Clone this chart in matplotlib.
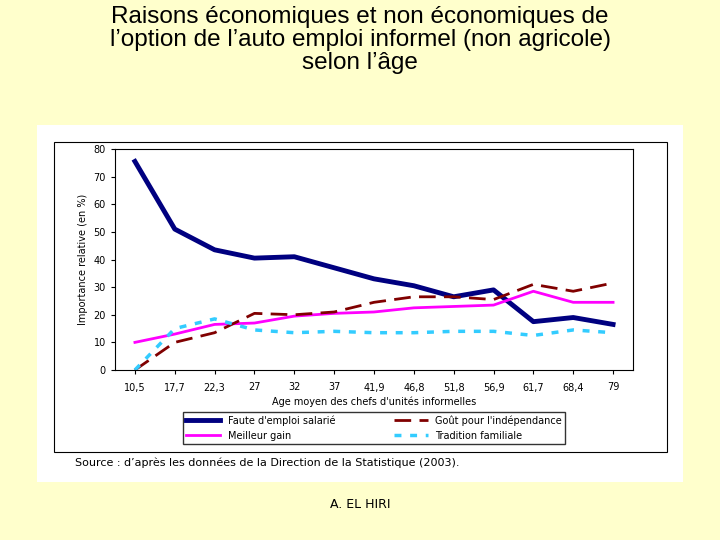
import matplotlib
matplotlib.use("Agg")
import matplotlib.pyplot as plt
from matplotlib.patches import Rectangle

ages = ["10,5","17,7","22,3","27","32","37","41,9","46,8","51,8","56,9","61,7","68,4","79"]
faute = [75.5,51,43.5,40.5,41,37,33,30.5,26.5,29,17.5,19,16.5]
meilleur = [10,13,16.5,17,19.5,20.5,21,22.5,23,23.5,28.5,24.5,24.5]
gout = [0,10,13.5,20.5,20,21,24.5,26.5,26.5,25.5,31,28.5,31.5]
tradition = [0,15,18.5,14.5,13.5,14,13.5,13.5,14,14,12.5,14.5,13.5]
yticks = [0,10,20,30,40,50,60,70,80]

W, H = 720, 540
fig = plt.figure(figsize=(7.2,5.4), dpi=100, facecolor="#FFFFCC")
fig.text(0.5, 1-6/H, "Raisons économiques et non économiques de\nl’option de l’auto emploi informel (non agricole)\nselon l’âge",
         ha="center", va="top", fontsize=17.5, family="Liberation Sans", linespacing=1.05)
fig.patches.append(Rectangle((37/W, 1-482/H), 646/W, 357/H, transform=fig.transFigure, facecolor="white", edgecolor="none", zorder=-10))
fig.patches.append(Rectangle((54/W, 1-452/H), 613/W, 310/H, transform=fig.transFigure, facecolor="none", edgecolor="black", lw=0.8, zorder=-9))

ax = fig.add_axes([115/W, 1-370/H, 518/W, 221/H])
ax.set_facecolor("none")
x = range(len(ages))
ax.plot(x, faute, color="#000080", lw=3.5, label="Faute d'emploi salarié")
ax.plot(x, meilleur, color="#FF00FF", lw=2, label="Meilleur gain")
ax.plot(x, gout, color="#800000", lw=2, ls=(0,(6,3)), label="Goût pour l'indépendance")
ax.plot(x, tradition, color="#33CCFF", lw=2.5, ls=(0,(2,2.5)), label="Tradition familiale")
ax.set_xlim(-0.5, len(ages)-0.5)
ax.set_ylim(0, 80)
ax.set_yticks(yticks)
ax.set_xticks(list(x))
ax.set_xticklabels(ages)
ax.tick_params(labelsize=7, length=3)
ax.tick_params(axis="x", pad=6)
ax.set_ylabel("Importance relative (en %)", fontsize=7)
ax.set_xlabel("Age moyen des chefs d'unités informelles", fontsize=7, labelpad=3)
ax.legend(ncol=2, fontsize=7, loc="upper center", bbox_to_anchor=(0.5, -0.17), frameon=True,
          fancybox=False, edgecolor="black", handlelength=3.5, columnspacing=6, borderpad=0.3)
fig.text(75/W, 1-463/H, "Source : d’après les données de la Direction de la Statistique (2003).", fontsize=8, va="center")
fig.text(0.5, 1-505/H, "A. EL HIRI", ha="center", va="center", fontsize=9)
fig.savefig("out.png", dpi=100, facecolor=fig.get_facecolor())
